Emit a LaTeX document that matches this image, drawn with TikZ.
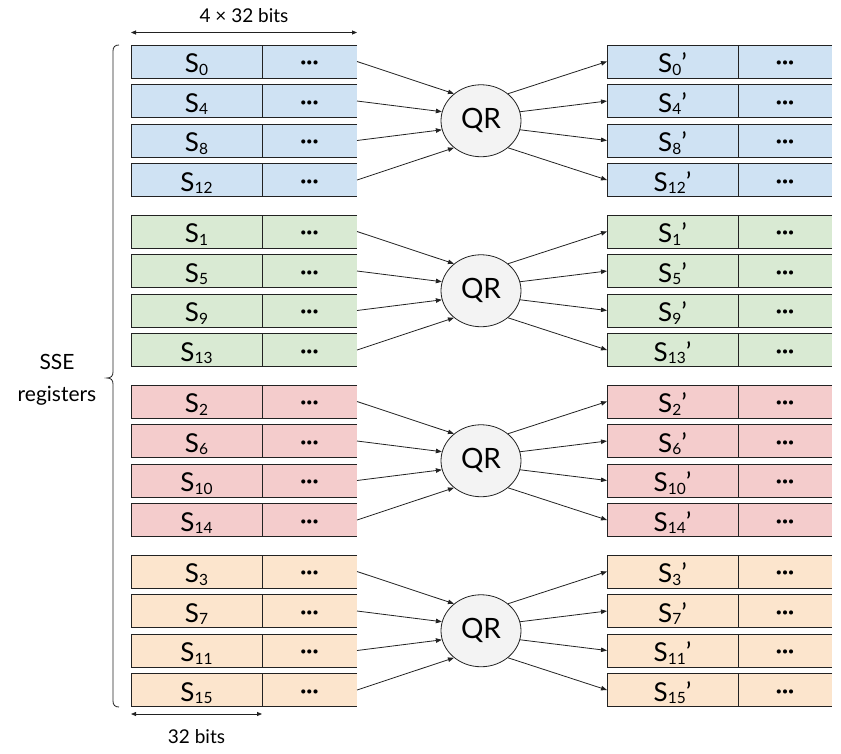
\documentclass[tikz,border=0pt]{standalone}
\usepackage{fontspec}
\setmainfont{Lato}
\usetikzlibrary{arrows.meta,shapes.geometric}
\definecolor{blueF}{HTML}{CFE2F3}
\definecolor{greenF}{HTML}{D9EAD3}
\definecolor{redF}{HTML}{F4CCCC}
\definecolor{orangeF}{HTML}{FCE5CD}
\definecolor{qrF}{HTML}{F3F3F3}
\definecolor{lineC}{HTML}{222222}
\newcommand\regS[1]{S\raisebox{-2.5pt}{\fontsize{15.5}{16}\selectfont #1}}
\newcommand\regSp[1]{S\raisebox{-2.5pt}{\fontsize{15.5}{16}\selectfont #1}’}
\begin{document}
\begin{tikzpicture}[x=1pt,y=-1pt,
  boxline/.style={line width=0.8pt, draw=lineC},
  arr/.style={-{Triangle[length=6pt,width=4.5pt]}, line width=0.8pt, draw=lineC},
  dim/.style={{Triangle[length=5pt,width=4pt]}-{Triangle[length=5pt,width=4pt]}, line width=0.8pt, draw=lineC},
  qr/.style={ellipse, draw=lineC, fill=qrF, minimum width=80pt, minimum height=72pt, inner sep=0pt, line width=0.8pt, font=\fontsize{28}{30}\selectfont},
  slabel/.style={anchor=base, inner sep=0pt, font=\fontsize{26}{30}\selectfont},
  dots/.style={inner sep=0pt, font=\fontsize{22}{24}\selectfont\bfseries},
  txt/.style={inner sep=0pt, font=\fontsize{19}{24}\selectfont}
]
\useasboundingbox (0,0) rectangle (841,753);

\foreach \g/\col in {0/blueF,1/greenF,2/redF,3/orangeF} {
  \pgfmathsetmacro{\ym}{120.75+170*\g}
  \node[qr] (QR\g) at (481,\ym) {QR};
  \foreach \r/\ain/\aout [evaluate=\r as \yy using 45+170*\g+39.5*\r, evaluate=\r as \i using int(\g+4*\r)] in {0/135/45,1/167/13,2/193/-13,3/225/-45} {
    \fill[\col] (131,\yy) rectangle (357,\yy+33);
    \draw[boxline] (357,\yy) -- (131,\yy) -- (131,\yy+33) -- (357,\yy+33) (262,\yy) -- (262,\yy+33);
    \fill[\col] (607,\yy) rectangle (832,\yy+33);
    \draw[boxline] (832,\yy) -- (607,\yy) -- (607,\yy+33) -- (832,\yy+33) (738,\yy) -- (738,\yy+33);
    \node[slabel] (ls\i) at (196.5,\yy+27.5) {\regS{\i}};
    \node[dots] (ld\i) at (309.5,\yy+20.5) {···};
    \node[slabel] (rs\i) at (672.5,\yy+27.5) {\regSp{\i}};
    \node[dots] (rd\i) at (785,\yy+20.5) {···};
    \coordinate (L\i) at (357,\yy+16.5);
    \coordinate (R\i) at (607,\yy+16.5);
    \draw[arr] (L\i) -- (QR\g.\ain);
    \draw[arr] (QR\g.\aout) -- (R\i);
  }
}

% brace
\draw[boxline] (119,45) .. controls (115,45) and (113,47) .. (113,51) -- (113,372)
  .. controls (113,376) and (111,378) .. (107,378)
  .. controls (111,378) and (113,380) .. (113,384) -- (113,701)
  .. controls (113,705) and (115,707) .. (119,707);
\node[inner sep=0pt, align=center, anchor=north, font=\fontsize{21}{32}\selectfont] (sse) at (57,354) {SSE\\registers};

% dimension arrows
\coordinate (tA) at (131,32.5);
\coordinate (tB) at (357,32.5);
\draw[dim] (tA) -- (tB);
\node[txt, anchor=base] (ttop) at (244,22.5) {4 × 32 bits};
\coordinate (bA) at (131,714);
\coordinate (bB) at (262,714);
\draw[dim] (bA) -- (bB);
\node[txt, anchor=base] (tbot) at (196.5,743) {32 bits};
\end{tikzpicture}
\end{document}
